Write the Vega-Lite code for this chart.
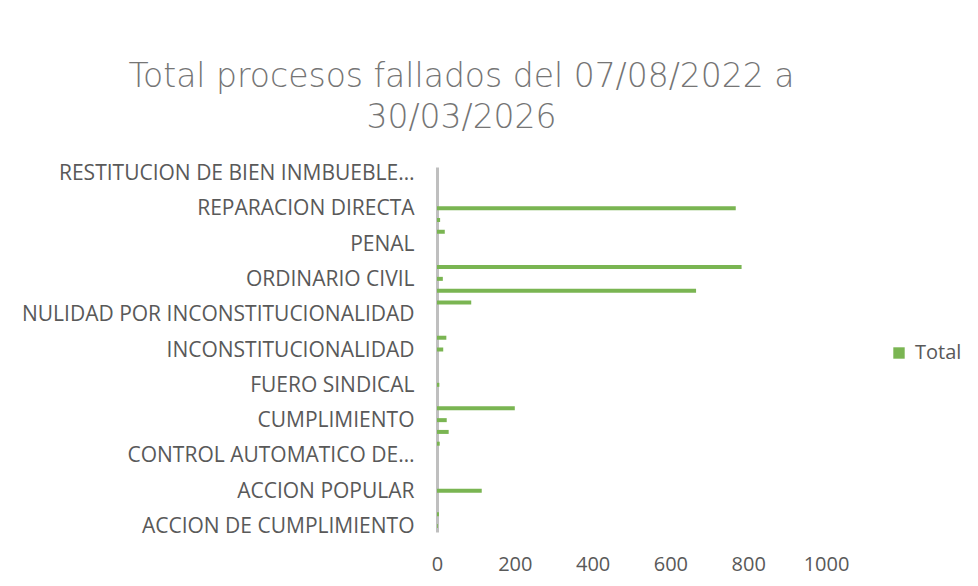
{
  "$schema": "https://vega.github.io/schema/vega-lite/v6.json",
  "autosize": "none",
  "width": 389,
  "height": 365,
  "padding": {"left": 437, "top": 167, "right": 152, "bottom": 54},
  "background": "white",
  "title": {
    "text": ["Total procesos fallados del  07/08/2022 a", "30/03/2026"],
    "fontSize": 33,
    "font": "DejaVu Sans",
    "fontWeight": 200,
    "color": "#757575",
    "lineHeight": 41,
    "anchor": "middle",
    "dx": -170,
    "offset": 27
  },
  "data": {
    "values": [
      {"tipo": "RESTITUCION DE BIEN INMBUEBLE ARRENDADO", "total": 0},
      {"tipo": "RESPONSABILIDAD FISCAL", "total": 0},
      {"tipo": "REPETICION", "total": 0},
      {"tipo": "REPARACION DIRECTA", "total": 768},
      {"tipo": "PROCESO VERBAL SUMARIO", "total": 8},
      {"tipo": "PERTENENCIA", "total": 20},
      {"tipo": "PENAL", "total": 0},
      {"tipo": "OTROS", "total": 0},
      {"tipo": "ORDINARIO LABORAL", "total": 783},
      {"tipo": "ORDINARIO CIVIL", "total": 15},
      {"tipo": "NULIDAD Y RESTABLECIMIENTO DEL DERECHO", "total": 666},
      {"tipo": "NULIDAD SIMPLE", "total": 88},
      {"tipo": "NULIDAD POR INCONSTITUCIONALIDAD", "total": 0},
      {"tipo": "NULIDAD ELECTORAL", "total": 0},
      {"tipo": "LESIVIDAD", "total": 24},
      {"tipo": "INCONSTITUCIONALIDAD", "total": 16},
      {"tipo": "IMPEDIMENTOS", "total": 0},
      {"tipo": "HABEAS CORPUS", "total": 0},
      {"tipo": "FUERO SINDICAL", "total": 6},
      {"tipo": "EXTINCION DE DOMINIO", "total": 0},
      {"tipo": "EJECUTIVO", "total": 200},
      {"tipo": "CUMPLIMIENTO", "total": 25},
      {"tipo": "CONTROVERSIAS CONTRACTUALES", "total": 30},
      {"tipo": "CONTROL INMEDIATO DE LEGALIDAD", "total": 7},
      {"tipo": "CONTROL AUTOMATICO DE LEGALIDAD", "total": 0},
      {"tipo": "CONFLICTO DE COMPETENCIAS", "total": 0},
      {"tipo": "CONCILIACION EXTRAJUDICIAL", "total": 0},
      {"tipo": "ACCION POPULAR", "total": 115},
      {"tipo": "ACCION DE REPETICION", "total": 0},
      {"tipo": "ACCION DE GRUPO", "total": 5},
      {"tipo": "ACCION DE CUMPLIMIENTO", "total": 2}
    ]
  },
  "mark": {"type": "bar", "size": 4},
  "encoding": {
    "y": {
      "field": "tipo",
      "type": "nominal",
      "sort": null,
      "scale": {"paddingInner": 0, "paddingOuter": 0},
      "axis": {
        "title": null,
        "values": ["RESTITUCION DE BIEN INMBUEBLE ARRENDADO", "REPARACION DIRECTA", "PENAL", "ORDINARIO CIVIL", "NULIDAD POR INCONSTITUCIONALIDAD", "INCONSTITUCIONALIDAD", "FUERO SINDICAL", "CUMPLIMIENTO", "CONTROL AUTOMATICO DE LEGALIDAD", "ACCION POPULAR", "ACCION DE CUMPLIMIENTO"],
        "labelExpr": "datum.label == 'RESTITUCION DE BIEN INMBUEBLE ARRENDADO' ? 'RESTITUCION DE BIEN INMBUEBLE…' : datum.label == 'CONTROL AUTOMATICO DE LEGALIDAD' ? 'CONTROL AUTOMATICO DE…' : datum.label",
        "ticks": false,
        "labelPadding": 23,
        "labelFont": "Open Sans",
        "labelFontSize": 21,
        "labelColor": "#595959",
        "labelLimit": 430,
        "labelOffset": 1,
        "domainColor": "#BFBFBF",
        "domainWidth": 3,
        "grid": false
      }
    },
    "x": {
      "field": "total",
      "type": "quantitative",
      "scale": {"domain": [0, 1000], "nice": false},
      "axis": {
        "title": null,
        "values": [0, 200, 400, 600, 800, 1000],
        "format": "d",
        "domain": false,
        "ticks": false,
        "grid": false,
        "labelFlush": false,
        "labelPadding": 22,
        "labelFont": "Open Sans",
        "labelFontSize": 20,
        "labelColor": "#595959"
      }
    },
    "color": {
      "datum": "Total",
      "scale": {"range": ["#7AB552"]},
      "legend": {
        "title": null,
        "orient": "none",
        "legendX": 452,
        "legendY": 176,
        "symbolType": "square",
        "symbolSize": 130,
        "symbolStrokeWidth": 0,
        "labelFont": "Open Sans",
        "labelFontSize": 20,
        "labelColor": "#595959",
        "labelOffset": 6
      }
    }
  },
  "config": {"view": {"stroke": null}}
}
